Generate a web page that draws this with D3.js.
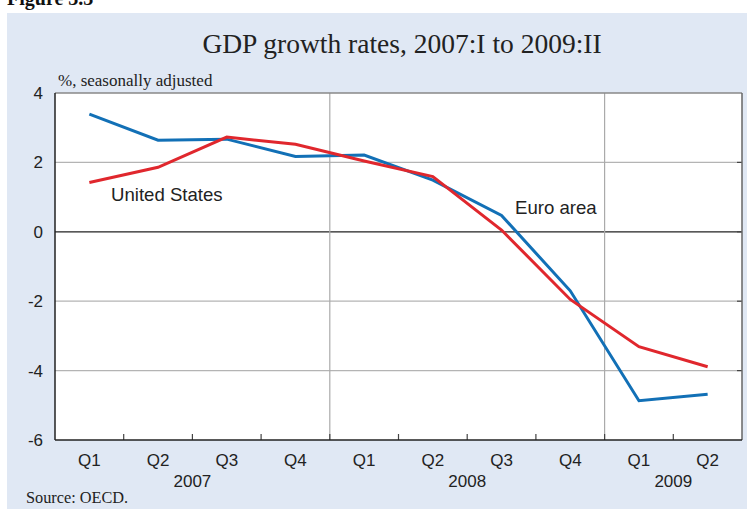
<!DOCTYPE html>
<html>
<head>
<meta charset="utf-8">
<script src="https://cdn.jsdelivr.net/npm/d3@7"></script>
<style>
  html, body { margin: 0; padding: 0; background: #fff; }
  svg { display: block; }
</style>
</head>
<body>
<div id="chart"></div>
<script>
// data
const quarters = ["Q1", "Q2", "Q3", "Q4", "Q1", "Q2", "Q3", "Q4", "Q1", "Q2"];
const years = ["2007", "2008", "2009"];
const yearOf = [0, 0, 0, 0, 1, 1, 1, 1, 2, 2];
const euroArea = [3.39, 2.64, 2.67, 2.17, 2.21, 1.49, 0.47, -1.7, -4.87, -4.68];
const unitedStates = [1.42, 1.86, 2.73, 2.52, 2.04, 1.59, 0.05, -1.95, -3.31, -3.89];
const yTicks = [4, 2, 0, -2, -4, -6];

const width = 747, height = 511;
const margin = { left: 55, right: 5, top: 93, bottom: 71 };

const svg = d3.select("#chart").append("svg")
  .attr("width", width)
  .attr("height", height);

// background panel
svg.append("rect")
  .attr("x", 7).attr("y", 13)
  .attr("width", width - 7).attr("height", 496)
  .attr("fill", "#e0e8f4");

// cut-off figure number at top
svg.append("text")
  .attr("x", 7).attr("y", 5)
  .attr("font-family", "Liberation Serif, Times New Roman, serif")
  .attr("font-weight", "bold")
  .attr("font-size", 20)
  .attr("fill", "#111")
  .text("Figure 3.3");

const x = d3.scaleBand()
  .domain(d3.range(quarters.length))
  .range([margin.left, width - margin.right]);

const y = d3.scaleLinear()
  .domain([-6, 4])
  .range([height - margin.bottom, margin.top]);

const x0 = x.range()[0], x1 = x.range()[1];
const y0 = y(-6), y1 = y(4);

// plot area
svg.append("rect")
  .attr("x", x0).attr("y", y1)
  .attr("width", x1 - x0).attr("height", y0 - y1)
  .attr("fill", "#fff");

// horizontal grid
svg.append("g")
  .selectAll("line")
  .data(yTicks.filter(d => d > -6 && d < 4))
  .join("line")
  .attr("x1", x0).attr("x2", x1)
  .attr("y1", d => y(d)).attr("y2", d => y(d))
  .attr("stroke", d => d === 0 ? "#222" : "#b4b4b4")
  .attr("stroke-width", 1.2);

// right side small ticks
svg.append("g")
  .selectAll("line")
  .data(yTicks.filter(d => d > -6 && d < 4))
  .join("line")
  .attr("x1", x1 - 5).attr("x2", x1)
  .attr("y1", d => y(d)).attr("y2", d => y(d))
  .attr("stroke", "#444")
  .attr("stroke-width", 1.2);

// year separators
const yearStarts = [4, 8];
svg.append("g")
  .selectAll("line")
  .data(yearStarts)
  .join("line")
  .attr("x1", d => x(d)).attr("x2", d => x(d))
  .attr("y1", y1).attr("y2", y0)
  .attr("stroke", "#aaa")
  .attr("stroke-width", 1.2);

// x ticks at quarter boundaries
svg.append("g")
  .selectAll("line")
  .data(d3.range(1, quarters.length))
  .join("line")
  .attr("x1", d => x(d)).attr("x2", d => x(d))
  .attr("y1", y0).attr("y2", y0 - 6)
  .attr("stroke", "#444")
  .attr("stroke-width", 1.2);

// frame
svg.append("line").attr("x1", x0).attr("x2", x1).attr("y1", y1).attr("y2", y1)
  .attr("stroke", "#888").attr("stroke-width", 1.5);
svg.append("line").attr("x1", x1).attr("x2", x1).attr("y1", y1).attr("y2", y0)
  .attr("stroke", "#666").attr("stroke-width", 1.5);
svg.append("line").attr("x1", x0).attr("x2", x0).attr("y1", y1).attr("y2", y0)
  .attr("stroke", "#222").attr("stroke-width", 1.5);
svg.append("line").attr("x1", x0).attr("x2", x1).attr("y1", y0).attr("y2", y0)
  .attr("stroke", "#222").attr("stroke-width", 1.5);

// y labels
svg.append("g")
  .selectAll("text")
  .data(yTicks)
  .join("text")
  .attr("x", 43)
  .attr("y", d => y(d))
  .attr("dy", "0.35em")
  .attr("text-anchor", "end")
  .attr("font-family", "Liberation Sans, Arial, sans-serif")
  .attr("font-size", 17)
  .attr("fill", "#222")
  .text(d => d);

// x labels
svg.append("g")
  .selectAll("text")
  .data(quarters)
  .join("text")
  .attr("x", (d, i) => x(i) + x.bandwidth() / 2)
  .attr("y", 466)
  .attr("text-anchor", "middle")
  .attr("font-family", "Liberation Sans, Arial, sans-serif")
  .attr("font-size", 17)
  .attr("fill", "#222")
  .text(d => d);

svg.append("g")
  .selectAll("text")
  .data(years)
  .join("text")
  .attr("x", (d, k) => {
    const idx = d3.range(quarters.length).filter(i => yearOf[i] === k);
    const a = x(idx[0]);
    const b = k === years.length - 1 ? x1 : x(idx[idx.length - 1]) + x.bandwidth();
    return (a + b) / 2;
  })
  .attr("y", 487)
  .attr("text-anchor", "middle")
  .attr("font-family", "Liberation Sans, Arial, sans-serif")
  .attr("font-size", 17)
  .attr("fill", "#222")
  .text(d => d);

// lines
const line = d3.line()
  .x((d, i) => x(i) + x.bandwidth() / 2)
  .y(d => y(d));

svg.append("path")
  .datum(euroArea)
  .attr("d", line)
  .attr("fill", "none")
  .attr("stroke", "#1270b6")
  .attr("stroke-width", 3);

svg.append("path")
  .datum(unitedStates)
  .attr("d", line)
  .attr("fill", "none")
  .attr("stroke", "#e0272d")
  .attr("stroke-width", 3);

// series labels
svg.append("text")
  .attr("x", 111).attr("y", 201)
  .attr("font-family", "Liberation Sans, Arial, sans-serif")
  .attr("font-size", 18.6)
  .attr("fill", "#222")
  .text("United States");

svg.append("text")
  .attr("x", 515).attr("y", 214)
  .attr("font-family", "Liberation Sans, Arial, sans-serif")
  .attr("font-size", 18.6)
  .attr("fill", "#222")
  .text("Euro area");

// title, subtitle, source
svg.append("text")
  .attr("x", 402).attr("y", 53)
  .attr("text-anchor", "middle")
  .attr("font-family", "Liberation Serif, Times New Roman, serif")
  .attr("font-size", 27.5)
  .attr("fill", "#222")
  .text("GDP growth rates, 2007:I to 2009:II");

svg.append("text")
  .attr("x", 58).attr("y", 86)
  .attr("font-family", "Liberation Serif, Times New Roman, serif")
  .attr("font-size", 17)
  .attr("fill", "#222")
  .text("%, seasonally adjusted");

svg.append("text")
  .attr("x", 26).attr("y", 503)
  .attr("font-family", "Liberation Serif, Times New Roman, serif")
  .attr("font-size", 16.3)
  .attr("fill", "#222")
  .text("Source: OECD.");
</script>
</body>
</html>
